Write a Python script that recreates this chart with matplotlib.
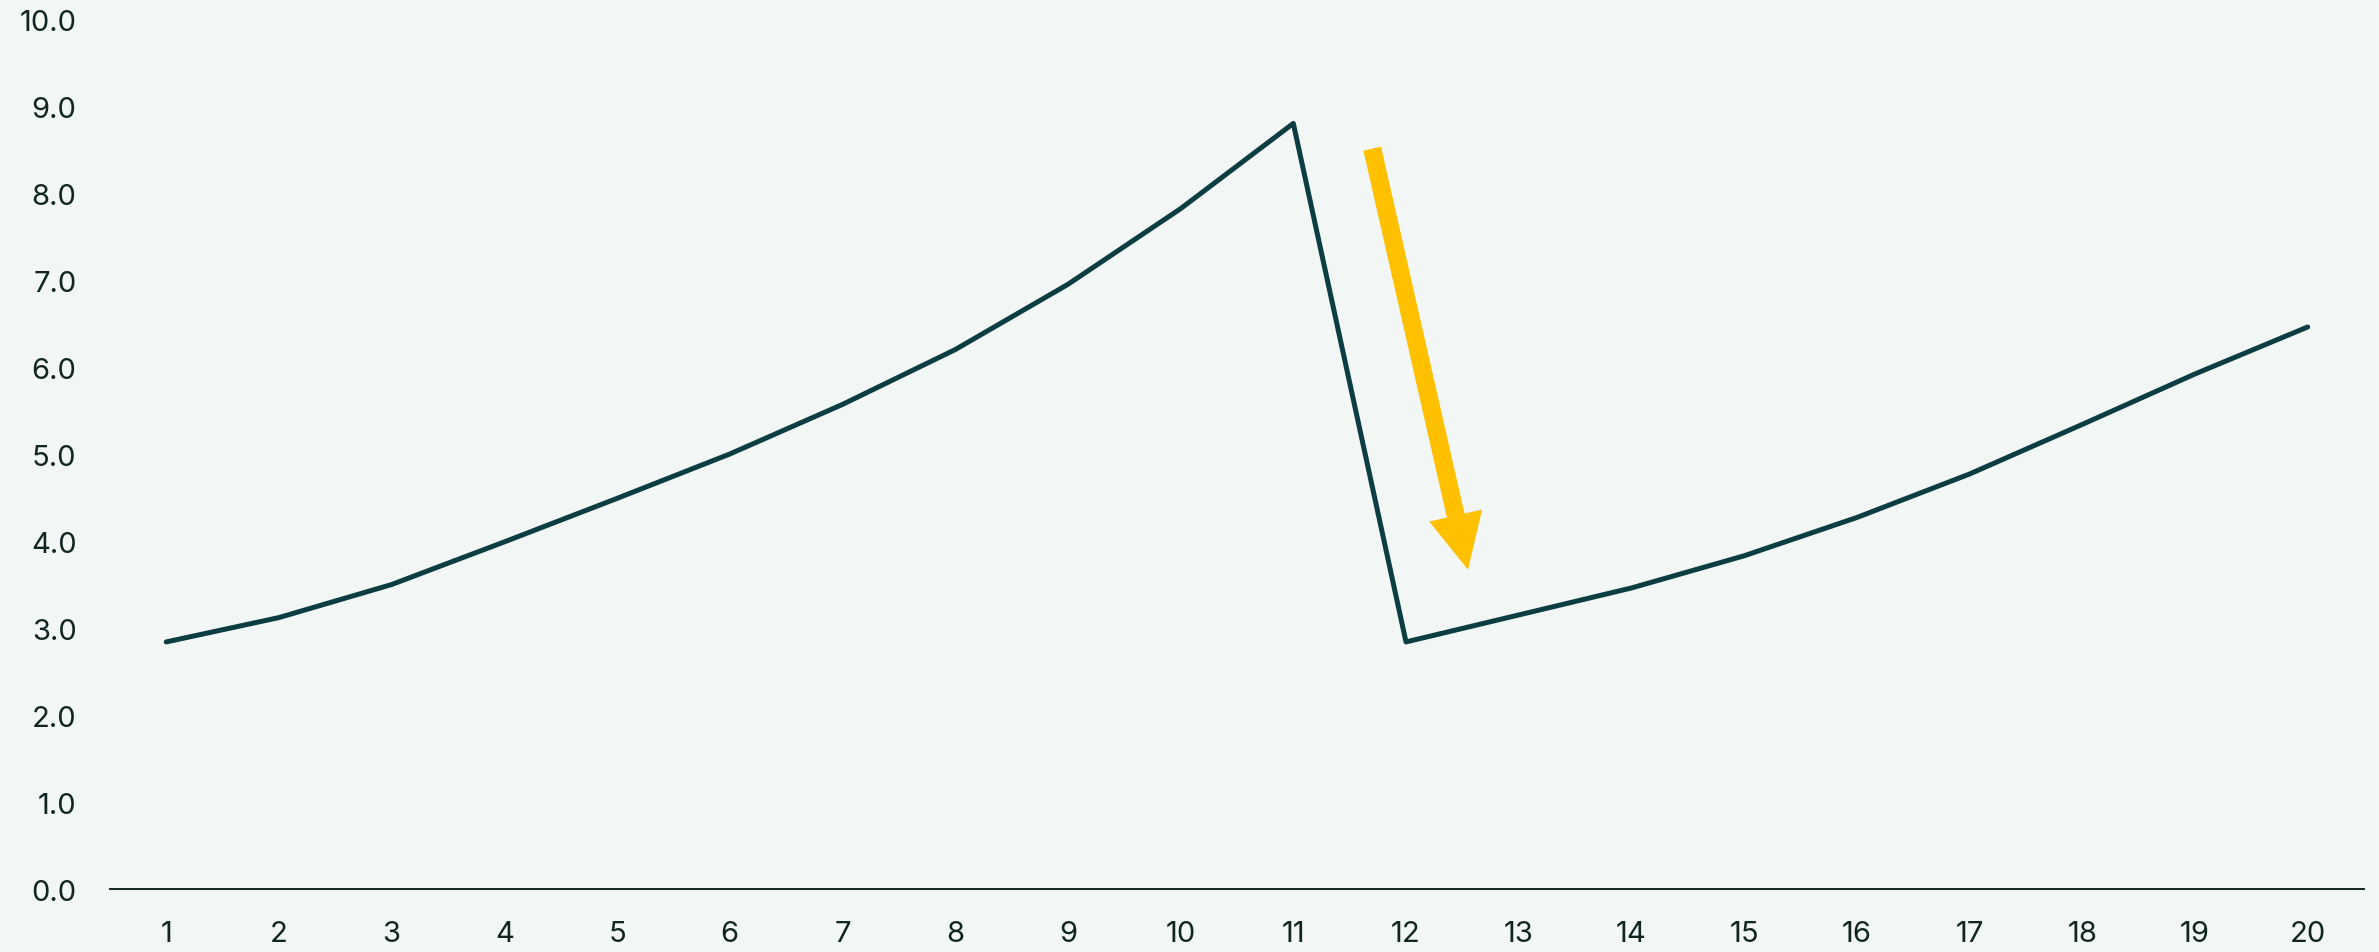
import matplotlib.pyplot as plt
from matplotlib.patches import FancyArrowPatch

periods = list(range(1, 21))
values = [2.84, 3.12, 3.50, 3.99, 4.49, 5.00, 5.57, 6.20, 6.95, 7.82,
          8.80, 2.84, 3.15, 3.46, 3.83, 4.27, 4.77, 5.34, 5.92, 6.46]
y_ticks = [0, 1, 2, 3, 4, 5, 6, 7, 8, 9, 10]

# arrow from just after the peak down towards the drop
arrow_start = (11.70, 8.51)
arrow_end = (12.55, 3.67)

BG = "#f2f6f5"
LINE = "#0b3d42"
TEXT = "#0f2623"
YELLOW = "#ffc000"


def main():
    plt.rcParams["font.family"] = ["Inter", "DejaVu Sans"]

    fig = plt.figure(figsize=(23.79, 9.53), dpi=100, facecolor=BG)
    ax = fig.add_axes([0.0462, 0.0661, 0.9475, 0.9129], facecolor=BG)

    ax.plot(periods, values, color=LINE, linewidth=3.6,
            solid_capstyle="round", solid_joinstyle="round", zorder=3)

    arrow = FancyArrowPatch(arrow_start, arrow_end,
                            arrowstyle="simple,head_length=40,head_width=39,tail_width=13",
                            mutation_scale=1, color=YELLOW, shrinkA=0, shrinkB=0,
                            linewidth=0, zorder=4)
    ax.add_patch(arrow)

    ax.set_xlim(0.5, 20.5)
    ax.set_ylim(0, 10)
    ax.set_xticks(periods)
    ax.set_xticklabels([str(p) for p in periods])
    ax.set_yticks(y_ticks)
    ax.set_yticklabels([f"{v:.1f}" for v in y_ticks])

    for side in ["top", "right", "left"]:
        ax.spines[side].set_visible(False)
    ax.spines["bottom"].set_color(TEXT)
    ax.spines["bottom"].set_linewidth(1.4)

    ax.tick_params(axis="both", length=0, labelsize=21, labelcolor=TEXT)
    ax.tick_params(axis="x", pad=22)
    ax.tick_params(axis="y", pad=24)

    fig.savefig("out.png", dpi=100, facecolor=BG)
    plt.close(fig)


if __name__ == "__main__":
    main()
